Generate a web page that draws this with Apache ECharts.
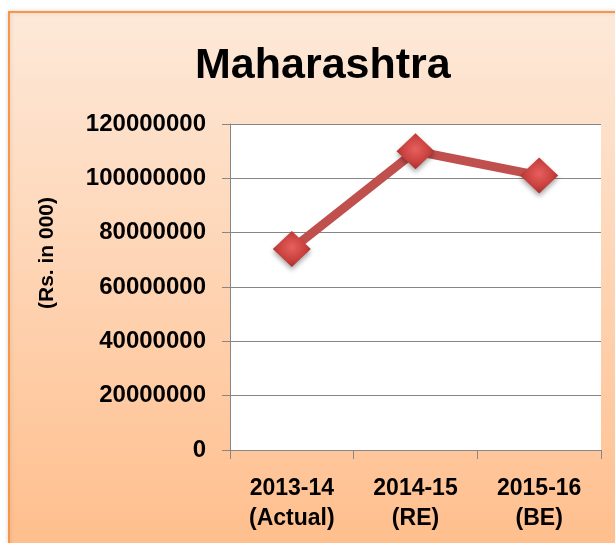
<!DOCTYPE html>
<html>
<head>
<meta charset="utf-8">
<script src="https://cdn.jsdelivr.net/npm/echarts@6/dist/echarts.min.js"></script>
<style>
  html, body { margin: 0; padding: 0; background: #fff; }
  #chart { width: 615px; height: 543px; }
</style>
</head>
<body>
<div id="chart"></div>
<script>
let categories = ['2013-14\n(Actual)', '2014-15\n(RE)', '2015-16\n(BE)']
let amounts = [74000000, 110000000, 101000000]

let font = 'Liberation Sans'

let chart = echarts.init(document.getElementById('chart'))

chart.setOption({
  backgroundColor: '#fff',
  animation: false,
  graphic: [
    {
      type: 'rect',
      z: -10,
      shape: { x: 9, y: 12, width: 620, height: 540 },
      style: {
        fill: new echarts.graphic.LinearGradient(0, 0, 0, 1, [
          { offset: 0, color: '#FDE9D9' },
          { offset: 1, color: '#FFBE8C' }
        ]),
        stroke: '#F79646',
        lineWidth: 2,
        shadowBlur: 4,
        shadowColor: 'rgba(0,0,0,0.15)'
      }
    }
  ],
  title: {
    text: 'Maharashtra',
    left: 190,
    top: 40,
    textStyle: { fontFamily: font, fontWeight: 'bold', fontSize: 43, color: '#000' }
  },
  grid: {
    left: 230, right: 14, top: 124, bottom: 93,
    show: true, backgroundColor: '#fff', borderWidth: 0
  },
  xAxis: {
    type: 'category',
    data: categories,
    boundaryGap: true,
    axisLine: { lineStyle: { color: '#868686', width: 1 } },
    axisTick: { show: true, length: 9, lineStyle: { color: '#868686' } },
    axisLabel: {
      margin: 24,
      fontFamily: font, fontWeight: 'bold', fontSize: 23, color: '#000',
      lineHeight: 30
    }
  },
  yAxis: {
    type: 'value',
    min: 0, max: 120000000, interval: 20000000,
    name: '(Rs. in 000)',
    nameLocation: 'middle',
    nameRotate: 90,
    nameGap: 172,
    nameTextStyle: {
      fontFamily: font, fontWeight: 'bold', fontSize: 21, color: '#000',
      padding: [0, 0, 0, 68]
    },
    axisLine: { show: true, lineStyle: { color: '#868686', width: 1 } },
    axisTick: { show: true, length: 8, lineStyle: { color: '#868686' } },
    splitLine: { lineStyle: { color: '#868686', width: 1 } },
    axisLabel: {
      margin: 24,
      formatter: (v) => String(v),
      fontFamily: font, fontWeight: 'bold', fontSize: 24, color: '#000'
    }
  },
  series: [
    {
      type: 'line',
      data: amounts,
      symbol: 'diamond',
      symbolSize: [38, 36],
      lineStyle: { color: '#C0504D', width: 9 },
      itemStyle: {
        color: new echarts.graphic.RadialGradient(0.5, 0.45, 0.6, [
          { offset: 0, color: '#E8605D' },
          { offset: 0.6, color: '#C8413E' },
          { offset: 1, color: '#9E2A28' }
        ]),
        borderWidth: 0,
        shadowBlur: 5,
        shadowOffsetY: 3,
        shadowColor: 'rgba(0,0,0,0.35)'
      }
    }
  ]
})
</script>
</body>
</html>
